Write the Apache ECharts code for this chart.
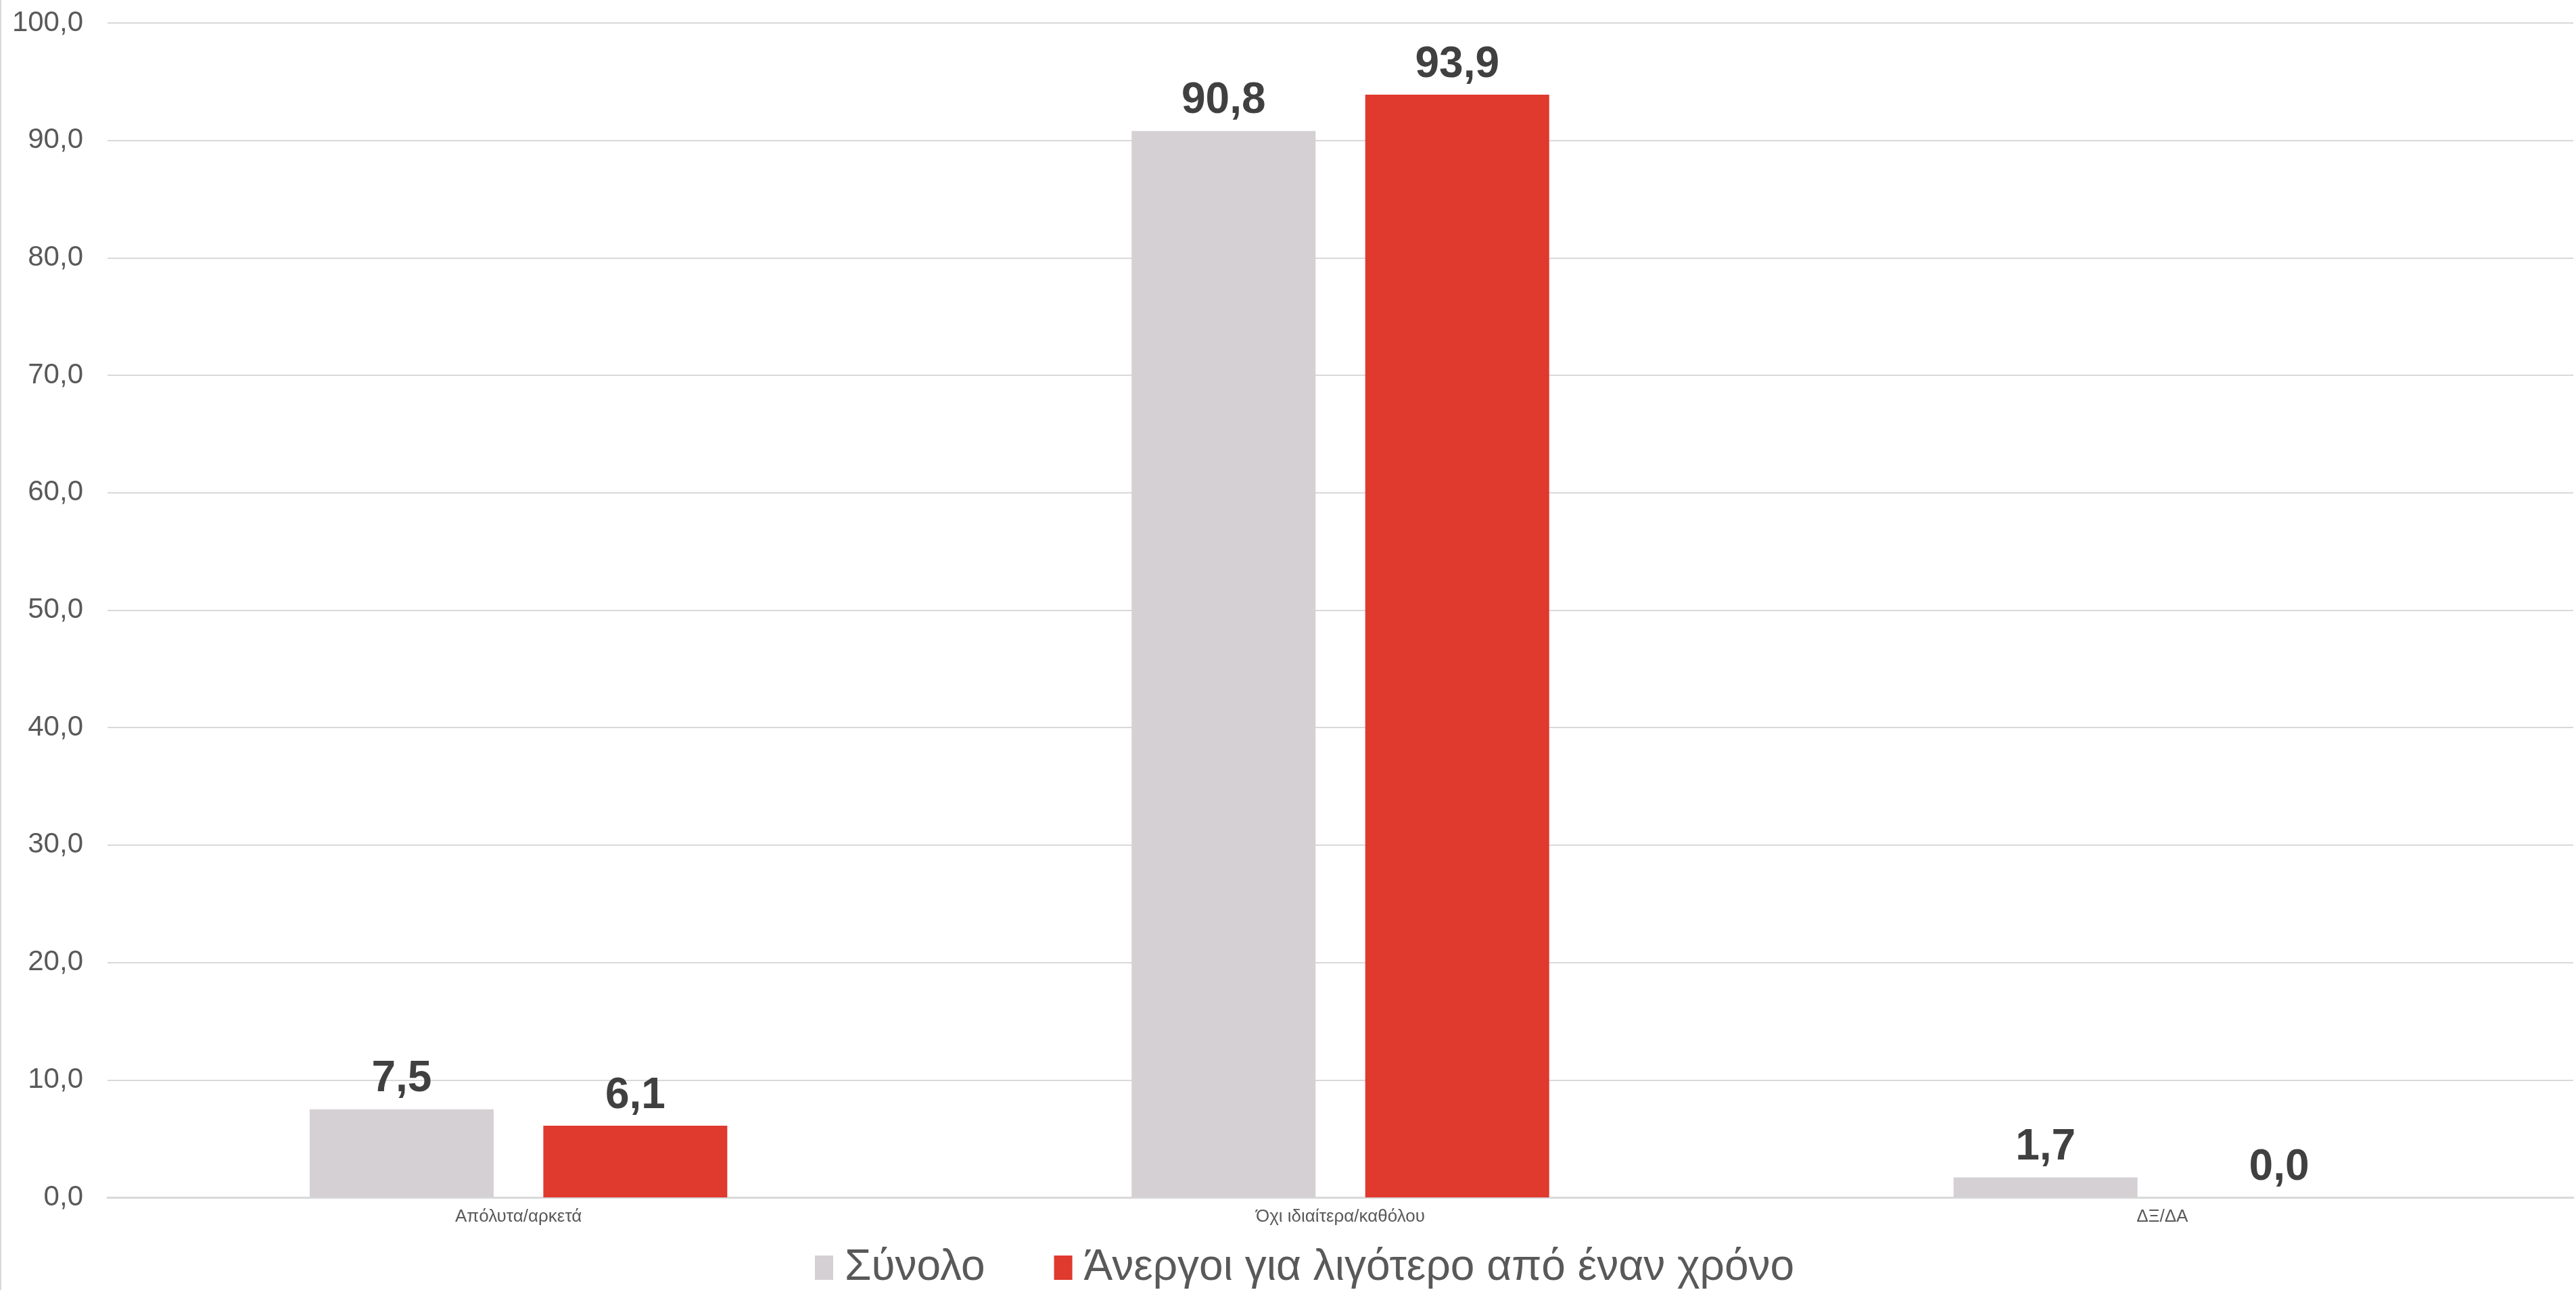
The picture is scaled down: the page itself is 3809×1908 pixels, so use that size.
<!DOCTYPE html>
<html>
<head>
<meta charset="utf-8">
<script src="https://cdn.jsdelivr.net/npm/echarts@6/dist/echarts.min.js"></script>
<style>
html,body{margin:0;padding:0;background:#fff;}
#chart{width:3809px;height:1908px;box-sizing:border-box;border-left:2px solid #d9d9d9;}
</style>
</head>
<body>
<div id="chart"></div>
<script>
const categories = ['Απόλυτα/αρκετά', 'Όχι ιδιαίτερα/καθόλου', 'ΔΞ/ΔΑ'];
const seriesNames = ['Σύνολο', 'Άνεργοι για λιγότερο από έναν χρόνο'];
const totalValues = [7.5, 90.8, 1.7];
const unemployedValues = [6.1, 93.9, 0.0];
const colors = ['#D5D0D3', '#E0392E'];

const fmt = v => Number(v).toFixed(1).replace('.', ',');

const chart = echarts.init(document.getElementById('chart'));
const labelCfg = {
  show: true,
  position: 'top',
  distance: 12,
  fontFamily: 'Liberation Sans, Arial, sans-serif',
  fontWeight: 'bold',
  fontSize: 64,
  color: '#404040',
  formatter: p => fmt(p.value)
};
chart.setOption({
  animation: false,
  backgroundColor: '#ffffff',
  color: colors,
  grid: { left: 157, right: 4, top: 34, bottom: 137, containLabel: false },
  legend: {
    bottom: -4,
    left: 1198,
    itemWidth: 27,
    itemHeight: 36,
    itemGap: 102,
    icon: 'rect',
    textStyle: { fontFamily: 'Liberation Sans Narrow, Arial Narrow, Liberation Sans, sans-serif', fontSize: 64, color: '#595959', padding: [0, 0, 0, 12] },
    data: seriesNames
  },
  xAxis: {
    type: 'category',
    data: categories,
    axisLine: { lineStyle: { color: '#d9d9d9', width: 3 } },
    axisTick: { show: false },
    axisLabel: { fontFamily: 'Liberation Sans Narrow, Arial Narrow, sans-serif', fontSize: 26, color: '#595959', margin: 16 }
  },
  yAxis: {
    type: 'value',
    min: 0, max: 100, interval: 10,
    axisLine: { show: false },
    axisTick: { show: false },
    splitLine: { lineStyle: { color: '#d9d9d9', width: 2 } },
    axisLabel: { fontFamily: 'Liberation Sans, Arial, sans-serif', fontSize: 42, color: '#595959', margin: 36, formatter: v => fmt(v) }
  },
  series: [
    { name: seriesNames[0], type: 'bar', data: totalValues, barWidth: 272, barGap: '27%', label: labelCfg, itemStyle: { color: colors[0] } },
    { name: seriesNames[1], type: 'bar', data: unemployedValues, barWidth: 272, label: labelCfg, itemStyle: { color: colors[1] } }
  ]
});
</script>
</body>
</html>
